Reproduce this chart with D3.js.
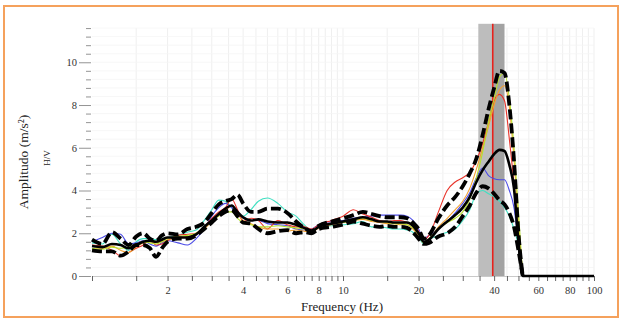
<!DOCTYPE html>
<html><head><meta charset="utf-8">
<script src="https://cdn.jsdelivr.net/npm/d3@7"></script>
<style>html,body{margin:0;padding:0;background:#fff;}svg{display:block;}
svg text{font-family:"Liberation Serif","Times New Roman",serif !important;}</style>
</head><body>
<svg id="c" width="622" height="321"></svg>
<script>
const freqs = [1,1.1,1.2,1.3,1.4,1.5,1.6,1.7,1.8,1.9,2.0,2.2,2.4,2.6,2.8,3.0,3.2,3.4,3.6,3.8,4.0,4.3,4.6,5.0,5.5,6.0,6.5,7.0,7.5,8,9,10,11,12,13,14,15,16,17,18,19,20,21,22,24,26,28,30,32,34,36,38,40,42,44,46,48,50,52,100];
const meanHV = [1.4,1.35,1.5,1.45,1.3,1.45,1.6,1.65,1.6,1.7, 1.8,1.8,1.8,1.95,2.3, 2.6,2.9,3.15,3.3,3.0, 2.75,2.6,2.65,2.55,2.5, 2.5,2.4,2.25,2.1,2.3, 2.45,2.55,2.65,2.75,2.65, 2.55,2.55,2.5,2.5,2.5, 2.35,2.0,1.6,1.7,2.2, 2.55,2.85,3.2,3.7,4.4, 4.95,5.35,5.7,5.9,5.85, 5.2,4.1,1.6,0,0];
const stdPlus = [1.7,1.5,2.05,1.75,1.45,1.85,2.0,1.75,1.65,1.9, 2.0,1.95,2.2,2.3,2.5, 2.95,3.35,3.5,3.6,3.8, 3.4,3.0,3.0,3.15,3.15, 2.95,2.55,2.25,2.1,2.35, 2.55,2.7,2.85,3.0,2.9, 2.8,2.75,2.75,2.75,2.7, 2.5,2.2,1.75,1.9,2.7, 3.3,3.7,4.2,4.8,5.5, 6.6,7.8,8.8,9.6,9.5, 8.0,5.4,2.0,0,null];
const stdMinus = [1.2,1.15,1.15,0.95,1.15,1.45,1.45,1.3,0.9,1.3, 1.6,1.75,1.75,1.9,2.2, 2.5,2.8,3.0,3.1,2.8, 2.5,2.45,2.2,2.0,2.1, 2.15,2.0,2.05,2.0,2.2, 2.3,2.4,2.55,2.45,2.35, 2.3,2.35,2.3,2.3,2.25, 2.05,1.75,1.5,1.55,1.85, 2.0,2.3,2.8,3.3,3.9, 4.2,4.1,3.85,3.55,3.35, 2.95,2.3,1.2,0,null];
const winCyan = [1.55,1.5,1.95,1.5,1.2,1.6,1.75,1.75,1.7,1.75, 1.8,1.9,2.05,2.15,2.6, 3.1,3.55,3.5,3.2,2.9, 2.8,3.1,3.5,3.65,3.4, 3.0,2.8,2.4,2.15,2.3, 2.35,2.4,2.45,2.55,2.3, 2.3,2.25,2.2,2.2,2.15, 2.05,1.8,1.5,1.7,1.9, 2.05,2.2,2.6,3.1,3.85, 4.0,3.85,3.7,3.5,3.2, 2.8,2.2,1.4,0,null];
const winBlue = [1.6,1.8,2.0,1.95,1.5,1.55,1.65,1.5,1.4,1.55, 1.65,1.55,1.45,1.75,2.2, 2.8,3.2,3.4,3.2,2.9, 2.7,2.6,2.6,2.45,2.4, 2.35,2.2,2.15,2.2,2.4, 2.55,2.6,2.7,2.75,2.8, 2.85,2.85,2.85,2.85,2.8, 2.6,2.2,1.75,1.9,2.2, 2.55,2.95,3.4,3.9,4.6, 5.05,4.7,4.55,4.5,4.5, 4.0,3.2,1.5,0,null];
const winRed = [1.45,1.4,1.2,0.95,1.1,1.3,1.45,1.7,1.45,1.5, 1.65,1.9,1.95,2.0,2.3, 2.7,3.0,3.2,3.6,3.1, 2.55,2.7,2.6,2.2,2.6, 2.4,2.3,2.3,2.2,2.4, 2.6,2.8,3.1,2.9,2.75, 2.6,2.55,2.6,2.6,2.5, 2.35,2.1,1.7,1.9,3.0, 4.0,4.4,4.6,4.85,5.4, 6.2,7.2,8.2,8.5,8.2, 6.4,4.3,1.8,0,null];
const winYellow = [1.3,1.25,1.35,1.3,1.35,1.5,1.6,1.55,1.5,1.6, 1.75,1.85,1.9,2.0,2.3, 2.6,2.8,3.0,3.0,2.7, 2.5,2.4,2.3,2.3,2.35, 2.3,2.25,2.2,2.1,2.3, 2.45,2.5,2.6,2.7,2.6, 2.55,2.5,2.45,2.45,2.4, 2.25,1.95,1.55,1.75,2.2, 2.5,2.7,3.0,3.6,4.6, 5.8,7.2,8.3,9.3,9.5, 8.3,6.0,3.0,0,null];
const winOrange = [1.25,1.3,1.4,1.2,1.1,1.35,1.55,1.6,1.55,1.6, 1.7,1.8,1.85,1.95,2.2, 2.55,2.85,3.05,3.3,2.9, 2.6,2.45,2.3,2.2,2.2, 2.1,2.15,2.1,2.05,2.25, 2.4,2.5,2.6,2.65,2.55, 2.5,2.45,2.45,2.4,2.4, 2.2,1.9,1.55,1.7,2.3, 2.7,3.1,3.5,4.1,5.0, 6.0,7.0,8.0,8.7,8.9, 7.9,5.5,2.5,0,null];
const peakFreq = 39.5;
const peakBand = [34.6, 44.0];
const xTickLabels = [2,4,6,8,10,20,40,60,80,100];
const yTickLabels = [0,2,4,6,8,10];

const svg = d3.select("#c");
svg.append("rect").attr("x",0).attr("y",0).attr("width",622).attr("height",321).attr("fill","#fff");
svg.append("rect").attr("x",4).attr("y",6).attr("width",614).attr("height",311)
  .attr("fill","none").attr("stroke","#f5a15c").attr("stroke-width",2);

const x = d3.scaleLog().domain([1,100]).range([92,594]);
const y = d3.scaleLinear().domain([0,11.8]).range([276,23.8]);

const xMinor = [];
for (let v=1; v<=10.0001; v+=0.5) xMinor.push(+v.toFixed(1));
for (let v=15; v<=100; v+=5) xMinor.push(v);
const yMinor = d3.range(0, 11.61, 0.4).map(v=>+v.toFixed(1));

const g = svg.append("g");
g.selectAll("line.vg").data(xMinor.filter(v=>v>1)).join("line")
  .attr("x1",d=>x(d)).attr("x2",d=>x(d)).attr("y1",y(11.6)).attr("y2",y(0))
  .attr("stroke","#ebebeb").attr("stroke-width",0.8);
g.selectAll("line.hg").data(yMinor.filter(v=>v>0)).join("line")
  .attr("x1",x(1)).attr("x2",x(100)).attr("y1",d=>y(d)).attr("y2",d=>y(d))
  .attr("stroke","#f5f5f5").attr("stroke-width",0.8);

svg.append("rect").attr("x",x(peakBand[0])).attr("y",y(11.8))
  .attr("width",x(peakFreq)-x(peakBand[0])).attr("height",y(0)-y(11.8)).attr("fill","#bdbdbd");
svg.append("rect").attr("x",x(peakFreq)).attr("y",y(11.8))
  .attr("width",x(peakBand[1])-x(peakFreq)).attr("height",y(0)-y(11.8)).attr("fill","#a3a3a3");
svg.append("line").attr("x1",x(peakFreq)).attr("x2",x(peakFreq)).attr("y1",y(11.8)).attr("y2",y(0))
  .attr("stroke","#e8221c").attr("stroke-width",1.6);

const xAxis = d3.axisBottom(x).tickValues(xMinor).tickSize(5)
  .tickFormat(d=> xTickLabels.includes(d) ? d : "");
const xa = svg.append("g").attr("transform","translate(0,276)").call(xAxis);
xa.attr("font-family",null);
xa.select(".domain").attr("stroke","#bbb").attr("stroke-width",0.8);
xa.selectAll(".tick line").attr("stroke","#555").attr("stroke-width",0.9);
xa.selectAll(".tick text").attr("font-size",10.5).attr("fill","#333").attr("dy","0.95em").attr("y",8);

const yAxis = d3.axisLeft(y).tickValues(yMinor).tickSize(5)
  .tickFormat(d=> yTickLabels.includes(d) ? d : "");
const ya = svg.append("g").attr("transform","translate(91,0)").call(yAxis);
ya.attr("font-family",null);
ya.select(".domain").remove();
ya.selectAll(".tick line").attr("stroke","#888").attr("stroke-width",0.9)
  .attr("x2",d=> yTickLabels.includes(d) ? -12 : -5);
ya.selectAll(".tick text").attr("font-size",10.5).attr("fill","#333").attr("x",-14);

const line = d3.line().defined(d=>d[1]!==null).x(d=>x(d[0])).y(d=>y(d[1])).curve(d3.curveMonotoneX);
const pts = arr => freqs.map((f,i)=>[f,arr[i]]);
const thin = [[winCyan,"#3fe0c2"],[winBlue,"#4a4ae6"],[winRed,"#e8332a"],[winOrange,"#f2a030"],[winYellow,"#b6e02a"]];
thin.forEach(([arr,c])=>{
  svg.append("path").attr("d",line(pts(arr))).attr("fill","none").attr("stroke",c).attr("stroke-width",1.1);
});
[stdMinus,stdPlus].forEach(arr=>{
  svg.append("path").attr("d",line(pts(arr))).attr("fill","none").attr("stroke","#000")
    .attr("stroke-width",3.8).attr("stroke-dasharray","10,4");
});
svg.append("path").attr("d",line(pts(meanHV))).attr("fill","none").attr("stroke","#000").attr("stroke-width",2.6);

svg.append("text").attr("x",342).attr("y",311).attr("text-anchor","middle")
  .attr("font-size",13).attr("fill","#222").text("Frequency (Hz)");
svg.append("text").attr("transform","translate(28,162) rotate(-90)").attr("text-anchor","middle")
  .attr("font-size",13.5).attr("fill","#222").text("Amplitudo (m/s²)");
svg.append("text").attr("transform","translate(50,158) rotate(-90)").attr("text-anchor","middle")
  .attr("font-size",9).attr("fill","#222").text("H/V");
</script>
</body></html>
